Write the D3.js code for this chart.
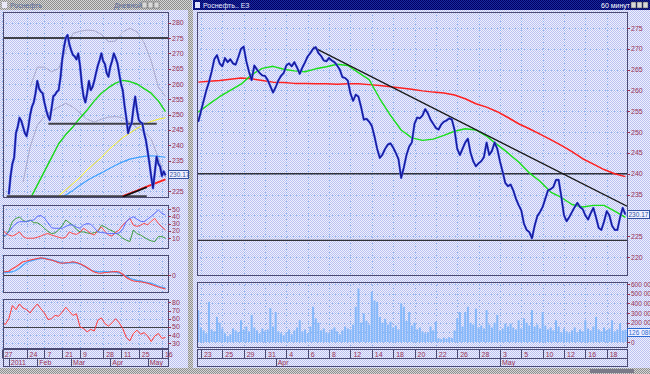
<!DOCTYPE html>
<html>
<head>
<meta charset="utf-8">
<script src="https://cdn.jsdelivr.net/npm/d3@7"></script>
<style>
body { margin: 0; overflow: hidden; background: #d6daf6; }
svg text { font-family: "Liberation Sans", Arial, sans-serif; font-size: 7px; }
</style>
</head>
<body>
<div id="chart"></div>
<script>
// ---- main window (hourly, Mar 23 - May 18), x in trading days from Mar 23
var mainTickDays = [0, 2, 4, 6, 8, 10, 12, 14, 16, 18, 20, 22, 24, 26, 28, 30, 32, 34, 36, 38];
var mainTickLabels = ["23", "25", "29", "31", "4", "6", "8", "12", "14", "18", "20", "22", "26", "28", "3", "5", "10", "12", "16", "18"];
var mainMonthDays = [7, 28];
var mainMonthLabels = ["Apr", "May"];
var mainPriceTicks = [220, 225, 230, 235, 240, 245, 250, 255, 260, 265, 270, 275];
var volumeTicks = [0, 100, 200, 300, 400, 500, 600];
var volumeTickLabels = ["0", "100 000", "200 000", "300 000", "400 000", "500 000", "600 000"];

// closes, one point per quarter day starting at day -0.25
var mainClose = [
	252.5, 255, 257.5, 260, 262, 264.5, 267.5, 268.5, 266.5, 265.8,
	267.8, 266.8, 267.5, 266.5, 266.2, 268, 270, 270.5, 267, 264.5,
	262.5, 266, 265, 264.2, 263.6, 263.5, 262.5, 261, 259.5, 260.8,
	262.4, 263.5, 264.2, 266, 266.5, 265.8, 266.8, 265.5, 264, 265.5,
	266.8, 268.2, 269, 270, 270.4, 269, 268.3, 267.2, 267, 267.8,
	267.2, 266.8, 266, 265, 263.2, 263, 262.4, 259.3, 257.5, 259,
	258.5, 256, 253, 253.2, 252.5, 251.5, 249, 246, 243.8, 244.6,
	246, 247, 247.3, 246.3, 245, 243.5, 239, 241.5, 244.5, 246.5,
	247.5, 252, 253.5, 253.3, 254, 255.5, 254.5, 253, 252, 251,
	250.6, 251.8, 252.5, 252.8, 253.3, 253, 250.5, 246, 244.5, 246,
	247.5, 248.4, 245, 243, 241.8, 242.5, 243, 244, 247.5, 244.5,
	245.5, 247.5, 246, 243, 240.5, 237.8, 237, 237.4, 236, 234,
	232.5, 231.2, 228, 226.5, 226, 224.5, 227.5, 229.8, 230.8, 232,
	234, 236, 236.3, 236.8, 238.5, 238.5, 234.5, 230, 228.6, 229.6,
	230.8, 232, 233, 232, 231.5, 230, 229, 230.5, 231.8, 229.5,
	227, 226.5, 228.5, 231, 230, 227.5, 226.5, 226.5, 229.5, 231.8,
	230.2
];
// moving averages, one point per day starting at day -0.25
var mainMaGreen = [
	254.8, 256.7, 258.5, 260, 261.5, 263.8, 265.3, 265.8, 265.1, 264.7,
	264.5, 265.2, 265.7, 266.3, 266, 264.3, 262.6, 258, 254, 250.5,
	248.6, 248, 248.3, 249.2, 250.2, 250.8, 250.5, 249, 247, 245,
	242.8, 240.2, 238.2, 235.6, 234.3, 232.6, 232, 232.4, 232.4, 231,
	229.5
];
var mainMaRed = [
	262, 262.2, 262.4, 262.7, 263, 262.8, 262.4, 262, 261.9, 261.7,
	261.7, 261.6, 261.6, 261.5, 261.6, 261.6, 261.4, 261.2, 260.9, 260.6,
	260.3, 259.9, 259.6, 259.4, 258.9, 258, 256.8, 256, 254.9, 253.5,
	252, 250.8, 249.5, 248.2, 246.8, 245.3, 243.6, 242.3, 241, 240,
	239.3
];
// volume in thousands, quarter-day steps
var mainVolume = [
	330, 150, 120, 90, 415, 130, 110, 260, 200, 140,
	90, 60, 80, 140, 120, 100, 225, 130, 160, 110,
	280, 150, 120, 90, 140, 110, 130, 350, 160, 310,
	110, 90, 70, 100, 130, 80, 120, 150, 225, 110,
	130, 90, 160, 365, 245, 200, 120, 140, 100, 90,
	130, 150, 110, 80, 120, 160, 140, 130, 180, 365,
	555, 200, 295, 220, 180, 520, 430, 415, 260, 200,
	240, 180, 210, 150, 170, 130, 400, 365, 220, 310,
	170, 200, 130, 150, 110, 90, 100, 160, 120, 210,
	40, 30, 45, 35, 50, 40, 120, 245, 310, 160,
	310, 365, 200, 180, 345, 150, 170, 140, 330, 180,
	150, 200, 280, 120, 140, 190, 160, 190, 150, 130,
	225, 140, 245, 200, 170, 330, 160, 180, 140, 310,
	170, 130, 150, 120, 225, 160, 100, 140, 110, 90,
	120, 150, 100, 130, 110, 225, 140, 120, 160, 260,
	130, 110, 150, 120, 140, 225, 110, 130, 190, 120,
	126
];
var mainLevels = [240, 224];
var mainTrendDays = [10.5, 39.9];
var mainTrendValues = [270.4, 232.2];
var lastPrice = "230.17";
var lastVolume = "126 080";

// ---- left window (daily, 2011), x in trading days from Dec 27
var leftTickDays = [0, 14, 24, 34, 44, 57, 67, 77, 90];
var leftTickLabels = ["27", "24", "7", "21", "9", "28", "11", "25", "16"];
var leftMonthDays = [4, 20, 39, 61, 82];
var leftMonthLabels = ["2011", "Feb", "Mar", "Apr", "May"];
var leftPriceTicks = [225, 230, 235, 240, 245, 250, 255, 260, 265, 270, 275, 280];

// daily closes from day 4 to day 92
var leftClose = [
	224, 230, 234, 236, 244, 246, 249, 248, 246, 244,
	243, 246, 250, 252.6, 254, 257, 261, 258.5, 257.5, 257,
	254, 251.5, 249.5, 248.3, 252, 256, 256.5, 257.5, 258, 262,
	268, 272, 275, 276, 273, 271, 269.5, 269, 268, 270,
	266, 260, 255.9, 254, 257, 261, 258, 259, 261, 263.6,
	266, 267.8, 270, 267.5, 266.5, 263.5, 262.4, 265.6, 267.5, 270,
	268.5, 266.8, 263.5, 260, 258, 253, 249, 244, 246, 247.2,
	252, 255.9, 251.5, 248.3, 247.5, 247.2, 244, 241.7, 238, 234.1,
	229.8, 226, 231, 236.3, 234, 233, 230, 231.5, 230.2
];
// overlays, every 4 days
var leftMaGreen = [222.5, 227, 231.5, 236, 240.5, 243.5, 246, 248.9, 251.5, 254.5, 257, 258.8, 260.3, 261.2, 260.8, 260, 258.5, 257, 254.5, 251]; // from day 16
var leftMaYellow = [221.5, 223.5, 225.5, 227.5, 229.5, 232, 234, 236, 238.5, 240.5, 242.5, 244, 245.5, 246.8, 247.8, 248.5, 249]; // from day 28
var leftMaBlue = [222, 223.8, 225.3, 227, 228.5, 229.8, 231, 232.3, 233.5, 234.6, 235.5, 236, 236.4, 236.6, 236.4, 236.1]; // from day 32
var leftBandUp = [259, 265.5, 265.5, 264, 265, 271, 276.5, 277.2, 277.6, 277.4, 276.2, 273.8, 274, 277, 278.2, 277, 273.5, 267.5, 259, 256]; // from day 16
var leftBandLow = [228, 239.5, 246.5, 249.5, 251.2, 252.5, 253.7, 252.5, 250.5, 248.5, 247.6, 248.5, 249.2, 249.4, 249, 247.5, 245.8, 244.5, 242, 236, 229.5]; // from day 12
var leftMaRed = [223.4, 224.3, 225.2, 226.2, 227.1, 228, 228.9]; // from day 68
var leftTrendDays = [68, 81.5];
var leftTrendValues = [223.2, 226.3];
var leftLevelValues = [275, 247, 223.4];
var leftLevelFrom = [-1, 26.2, 2.8];
var leftLevelTo = [94, 87.1, 81.5];

// indicators, every 2 days from day 0
var dmiTicks = [10, 20, 30, 40, 50];
var dmiBlue = [14, 12.8, 18, 25, 30, 32.5, 32.5, 32.5, 34, 34.8, 40, 41, 37.6, 31, 24, 23.4, 23.4, 23.4, 26, 28, 28, 25, 23.4, 28, 30, 29, 24, 18.4, 17.5, 17, 16.1, 16.1, 16.1, 17, 22, 32.5, 37, 39.4, 36, 33, 32.5, 36, 40, 44, 48.5, 44, 41.7];
var dmiGreen = [12, 12.6, 20, 32.5, 37, 39, 34, 32.5, 34.8, 31, 31, 28, 23.4, 19, 16.1, 17, 21, 27, 34.8, 31, 27.6, 22, 18.4, 18.4, 17, 16.1, 17.5, 18.4, 27.6, 25.3, 22, 20, 17, 14, 9.7, 7, 5.1, 21.1, 16, 14.1, 11, 8, 6, 5.1, 11.9, 11.9, 9.7];
var dmiRed = [23.4, 17, 14.1, 12.6, 15, 18.4, 12, 9.7, 9.7, 9.7, 11, 12.6, 15, 16.1, 14, 12.6, 11, 9.7, 11, 18.4, 16, 15, 18, 23.4, 20, 16.1, 14, 20, 25.3, 19, 14, 12.6, 18, 21, 28, 32.5, 37, 27.6, 26, 27.6, 30.2, 28, 33, 37, 30.2, 25.3, 21];
var macdRed = [1.3, 1.3, 1.5, 2.5, 3.3, 4.3, 5.3, 5.6, 6, 6.3, 6.6, 6.9, 6.6, 6.2, 6, 5.5, 4.9, 4.7, 4.9, 5, 5.3, 5, 4.5, 3.8, 3, 2, 1.2, 0.8, 0.7, 1, 1.1, 1.3, 1.4, 1.2, 0.3, -1, -1.8, -2.4, -2.6, -2.7, -3, -3.3, -3.8, -4.3, -4.8, -5.2, -5.6];
var macdBlue = [1, 1, 1.1, 1.3, 1.8, 2.8, 4, 5, 5.6, 6, 6.4, 6.6, 6.7, 6.4, 6, 5.6, 5.2, 4.8, 4.7, 4.9, 5, 4.8, 4.4, 3.6, 2.8, 2, 1.5, 1.3, 1.3, 1.3, 1.3, 1.3, 1.2, 0.8, 0.2, -0.4, -1.3, -1.8, -2.2, -2.4, -2.8, -3.1, -3.3, -3.8, -4.4, -4.9, -5.3];
var rsiTicks = [30, 40, 50, 60, 70, 80];
var rsiValues = [56, 53, 60, 76, 71, 78, 73, 71, 67, 73, 78, 72, 67, 59, 60, 64, 63, 68, 74, 69, 64, 66, 50, 48, 44, 47, 45, 58, 61, 54, 51, 55, 60, 55, 48, 37, 33, 42, 46, 41, 43, 39, 32, 39, 42, 36, 37];

var width = 650,
	height = 374,
	labelColor = "#993355",
	gridColor = "#8fb6ec",
	frameColor = "#4a4a72";

var svg = d3.select("#chart").append("svg")
	.attr("width", width)
	.attr("height", height);

var defs = svg.append("defs");

function dither(id, light, dark) {
	var p = defs.append("pattern")
		.attr("id", id)
		.attr("width", 2).attr("height", 2)
		.attr("patternUnits", "userSpaceOnUse");
	p.append("rect").attr("width", 2).attr("height", 2).attr("fill", light);
	p.append("rect").attr("width", 1).attr("height", 1).attr("fill", dark);
	p.append("rect").attr("x", 1).attr("y", 1).attr("width", 1).attr("height", 1).attr("fill", dark);
}
dither("bg", "#eef0ff", "#bcc2f0");
dither("gray", "#d6d6d6", "#8e8e8e");
dither("navy", "#1a2a9a", "#000066");

svg.append("rect").attr("width", width).attr("height", height).attr("fill", "url(#bg)");

// window chrome
svg.append("rect").attr("x", 0).attr("y", 0).attr("width", 192).attr("height", 10).attr("fill", "url(#gray)");
svg.append("rect").attr("x", 193).attr("y", 0).attr("width", 457).attr("height", 10).attr("fill", "url(#navy)");
svg.append("rect").attr("x", 188).attr("y", 10).attr("width", 5).attr("height", 364).attr("fill", "url(#gray)");
svg.append("rect").attr("x", 0).attr("y", 368).attr("width", width).attr("height", 6).attr("fill", "url(#gray)");
svg.append("rect").attr("x", 590).attr("y", 369).attr("width", 44).attr("height", 4).attr("fill", "#7a7a8a");

svg.append("text").attr("x", 10).attr("y", 7.5).attr("fill", "#5a6a9a").text("Роснефть");
svg.append("text").attr("x", 114).attr("y", 7.5).attr("fill", "#5a6a9a").text("Дневной");
svg.append("text").attr("x", 203).attr("y", 7.5).attr("fill", "#e8ecff").text("Роснефть.. ЕЗ");
svg.append("text").attr("x", 601).attr("y", 7.5).attr("fill", "#ffffff").text("60 минут");
[0, 1, 2].forEach(function(k) {
	svg.append("rect").attr("x", 142 + k * 6).attr("y", 2).attr("width", 5).attr("height", 6)
		.attr("fill", "#d8d8d8").attr("stroke", "#606060").attr("stroke-width", 0.5);
	svg.append("rect").attr("x", 631 + k * 6).attr("y", 2).attr("width", 5).attr("height", 6)
		.attr("fill", "#d8d8d8").attr("stroke", "#404040").attr("stroke-width", 0.5);
});
svg.append("rect").attr("x", 195).attr("y", 2).attr("width", 5).attr("height", 6).attr("fill", "#e0e0ff");
svg.append("rect").attr("x", 2).attr("y", 2).attr("width", 5).attr("height", 6).attr("fill", "#e8e8f8");

// scales
var xMain = d3.scaleLinear().domain([-0.37, 39.9]).range([197, 627]);
var yMain = d3.scaleLinear().domain([220, 275]).range([257, 28]);
var yVol = d3.scaleLinear().domain([0, 600]).range([342, 284]);
var xLeft = d3.scaleLinear().domain([0, 90]).range([1.7, 161.9]);
var yLeft = d3.scaleLinear().domain([225, 280]).range([191.3, 22.7]);
var yDmi = d3.scaleLinear().domain([10, 50]).range([238, 209]);
var yMacd = d3.scaleLinear().domain([-6.8, 8]).range([292, 255]);
var yRsi = d3.scaleLinear().domain([30, 80]).range([343.3, 302.3]);

var clipCount = 0;
function makePanel(x0, x1, y0, y1, xScale, tickDays, yScale, yTicks) {
	var id = "clip" + (clipCount++);
	defs.append("clipPath").attr("id", id)
		.append("rect").attr("x", x0).attr("y", y0).attr("width", x1 - x0).attr("height", y1 - y0);
	var g = svg.append("g");
	var grid = g.append("g")
		.attr("stroke", gridColor)
		.attr("stroke-dasharray", "1,2")
		.attr("stroke-width", 1);
	grid.selectAll(".v").data(tickDays).enter().append("line")
		.attr("x1", function(d) { return Math.round(xScale(d)) + 0.5; })
		.attr("x2", function(d) { return Math.round(xScale(d)) + 0.5; })
		.attr("y1", y0).attr("y2", y1);
	grid.selectAll(".h").data(yTicks).enter().append("line")
		.attr("y1", function(d) { return Math.round(yScale(d)) + 0.5; })
		.attr("y2", function(d) { return Math.round(yScale(d)) + 0.5; })
		.attr("x1", x0).attr("x2", x1);
	var inner = g.append("g").attr("clip-path", "url(#" + id + ")");
	g.append("rect")
		.attr("x", x0 + 0.5).attr("y", y0 + 0.5)
		.attr("width", x1 - x0).attr("height", y1 - y0)
		.attr("fill", "none").attr("stroke", frameColor).attr("stroke-width", 1);
	return inner;
}

function axisLabels(x, yScale, ticks, labels, size) {
	var g = svg.append("g");
	g.selectAll("line").data(ticks).enter().append("line")
		.attr("x1", x - 3).attr("x2", x)
		.attr("y1", function(d) { return Math.round(yScale(d)) + 0.5; })
		.attr("y2", function(d) { return Math.round(yScale(d)) + 0.5; })
		.attr("stroke", labelColor).attr("stroke-width", 1);
	g.selectAll("text").data(ticks).enter().append("text")
		.attr("x", x + 1)
		.attr("y", function(d) { return yScale(d) + 2.5; })
		.attr("fill", labelColor)
		.style("font-size", size || "7px")
		.text(function(d, i) { return labels ? labels[i] : d; });
}

function series(g, values, start, step, xScale, yScale, color, w) {
	g.append("path")
		.datum(values)
		.attr("fill", "none")
		.attr("stroke", color)
		.attr("stroke-width", w)
		.attr("stroke-linejoin", "round")
		.attr("d", d3.line()
			.x(function(d, i) { return xScale(start + step * i); })
			.y(function(d) { return yScale(d); }));
}

function dateAxis(x0, x1, xScale, tickDays, tickLabels, monthDays, monthLabels) {
	var g = svg.append("g");
	g.append("rect").attr("x", x0 + 0.5).attr("y", 349.5).attr("width", x1 - x0).attr("height", 9)
		.attr("fill", "none").attr("stroke", frameColor);
	g.append("rect").attr("x", x0 + 0.5).attr("y", 358.5).attr("width", x1 - x0).attr("height", 8)
		.attr("fill", "none").attr("stroke", frameColor);
	g.selectAll(".t").data(tickDays).enter().append("line")
		.attr("x1", function(d) { return Math.round(xScale(d)) + 0.5; })
		.attr("x2", function(d) { return Math.round(xScale(d)) + 0.5; })
		.attr("y1", 349.5).attr("y2", 358.5)
		.attr("stroke", frameColor);
	g.selectAll(".tl").data(tickDays).enter().append("text")
		.attr("x", function(d) { return xScale(d) + 3; })
		.attr("y", 356.5)
		.attr("fill", labelColor)
		.text(function(d, i) { return tickLabels[i]; });
	g.selectAll(".m").data(monthDays).enter().append("line")
		.attr("x1", function(d) { return Math.round(xScale(d)) + 0.5; })
		.attr("x2", function(d) { return Math.round(xScale(d)) + 0.5; })
		.attr("y1", 358.5).attr("y2", 366.5)
		.attr("stroke", frameColor);
	g.selectAll(".ml").data(monthDays).enter().append("text")
		.attr("x", function(d) { return xScale(d) + 2; })
		.attr("y", 365)
		.attr("fill", labelColor)
		.text(function(d, i) { return monthLabels[i]; });
}

function valueBox(x, y, w, text, color) {
	svg.append("rect").attr("x", x + 0.5).attr("y", y + 0.5).attr("width", w).attr("height", 8)
		.attr("fill", "#eef0ff").attr("stroke", color).attr("stroke-width", 1);
	svg.append("text").attr("x", x + 1.5).attr("y", y + 7).attr("fill", color)
		.style("font-size", "6.5px").text(text);
}

// ---- main price panel
var mp = makePanel(197, 627, 12, 275, xMain, mainTickDays, yMain, mainPriceTicks);
mp.selectAll(".lvl").data(mainLevels).enter().append("line")
	.attr("x1", 197).attr("x2", 627)
	.attr("y1", function(d) { return yMain(d); })
	.attr("y2", function(d) { return yMain(d); })
	.attr("stroke", "#303038").attr("stroke-width", 1.4);
series(mp, mainMaRed, -0.25, 1, xMain, yMain, "#ff2020", 1.5);
series(mp, mainMaGreen, -0.25, 1, xMain, yMain, "#18e018", 1.4);
mp.append("line")
	.attr("x1", xMain(mainTrendDays[0])).attr("y1", yMain(mainTrendValues[0]))
	.attr("x2", xMain(mainTrendDays[1])).attr("y2", yMain(mainTrendValues[1]))
	.attr("stroke", "#181818").attr("stroke-width", 1.3);
series(mp, mainClose, -0.25, 0.25, xMain, yMain, "#4a60f0", 2.2);
series(mp, mainClose, -0.25, 0.25, xMain, yMain, "#16168e", 1.2);
axisLabels(630, yMain, mainPriceTicks);
valueBox(627, 210, 22, lastPrice, "#3050a0");

// ---- volume panel
var vp = makePanel(197, 627, 282, 347, xMain, mainTickDays, yVol, volumeTicks);
vp.selectAll("rect.vol").data(mainVolume).enter().append("rect")
	.attr("class", "vol")
	.attr("x", function(d, i) { return xMain(-0.25 + 0.25 * i) - 1; })
	.attr("y", function(d) { return yVol(d); })
	.attr("width", 2)
	.attr("height", function(d) { return yVol(0) - yVol(d); })
	.attr("fill", "#84b8fa");
axisLabels(630, yVol, volumeTicks, volumeTickLabels, "6.5px");
valueBox(627, 328, 24, lastVolume, "#2a6ad0");
dateAxis(197, 627, xMain, mainTickDays, mainTickLabels, mainMonthDays, mainMonthLabels);

// ---- left price panel
var lp = makePanel(3, 168, 12, 197, xLeft, leftTickDays, yLeft, leftPriceTicks);
series(lp, leftBandUp, 16, 4, xLeft, yLeft, "#a8a8cc", 1);
series(lp, leftBandLow, 12, 4, xLeft, yLeft, "#a8a8cc", 1);
series(lp, leftMaYellow, 28, 4, xLeft, yLeft, "#f4f020", 1);
series(lp, leftMaBlue, 32, 4, xLeft, yLeft, "#3ca0ff", 1.2);
series(lp, leftMaGreen, 16, 4, xLeft, yLeft, "#18d818", 1.4);
leftLevelValues.forEach(function(v, i) {
	lp.append("line")
		.attr("x1", xLeft(leftLevelFrom[i])).attr("x2", xLeft(leftLevelTo[i]))
		.attr("y1", yLeft(v)).attr("y2", yLeft(v))
		.attr("stroke", "#404048").attr("stroke-width", 2);
});
series(lp, leftMaRed, 68, 4, xLeft, yLeft, "#ff2020", 1.8);
lp.append("line")
	.attr("x1", xLeft(leftTrendDays[0])).attr("y1", yLeft(leftTrendValues[0]))
	.attr("x2", xLeft(leftTrendDays[1])).attr("y2", yLeft(leftTrendValues[1]))
	.attr("stroke", "#101010").attr("stroke-width", 1.6);
series(lp, leftClose, 4, 1, xLeft, yLeft, "#4a60f0", 2.4);
series(lp, leftClose, 4, 1, xLeft, yLeft, "#16168e", 1.2);
axisLabels(171, yLeft, leftPriceTicks);
valueBox(168, 170, 20, lastPrice, "#3050a0");

// ---- left indicators
var dp = makePanel(3, 168, 205, 248, xLeft, leftTickDays, yDmi, dmiTicks);
series(dp, dmiGreen, 0, 2, xLeft, yDmi, "#3c9c3c", 1);
series(dp, dmiRed, 0, 2, xLeft, yDmi, "#ff4848", 1);
series(dp, dmiBlue, 0, 2, xLeft, yDmi, "#5a6cff", 1);
axisLabels(171, yDmi, dmiTicks);

var cp = makePanel(3, 168, 255, 292, xLeft, leftTickDays, yMacd, [0]);
cp.append("line").attr("x1", 3).attr("x2", 168)
	.attr("y1", Math.round(yMacd(0)) + 0.5).attr("y2", Math.round(yMacd(0)) + 0.5)
	.attr("stroke", "#404048").attr("stroke-width", 1);
series(cp, macdBlue, 0, 2, xLeft, yMacd, "#4aa8ff", 1.3);
series(cp, macdRed, 0, 2, xLeft, yMacd, "#ff4040", 1.1);
axisLabels(171, yMacd, [0]);

var rp = makePanel(3, 168, 299, 348, xLeft, leftTickDays, yRsi, rsiTicks);
rp.append("line").attr("x1", 3).attr("x2", 168)
	.attr("y1", Math.round(yRsi(50)) + 0.5).attr("y2", Math.round(yRsi(50)) + 0.5)
	.attr("stroke", "#404048").attr("stroke-width", 1);
series(rp, rsiValues, 0, 2, xLeft, yRsi, "#ff3838", 1);
axisLabels(171, yRsi, rsiTicks);

dateAxis(3, 168, xLeft, leftTickDays, leftTickLabels, leftMonthDays, leftMonthLabels);
</script>
</body>
</html>
